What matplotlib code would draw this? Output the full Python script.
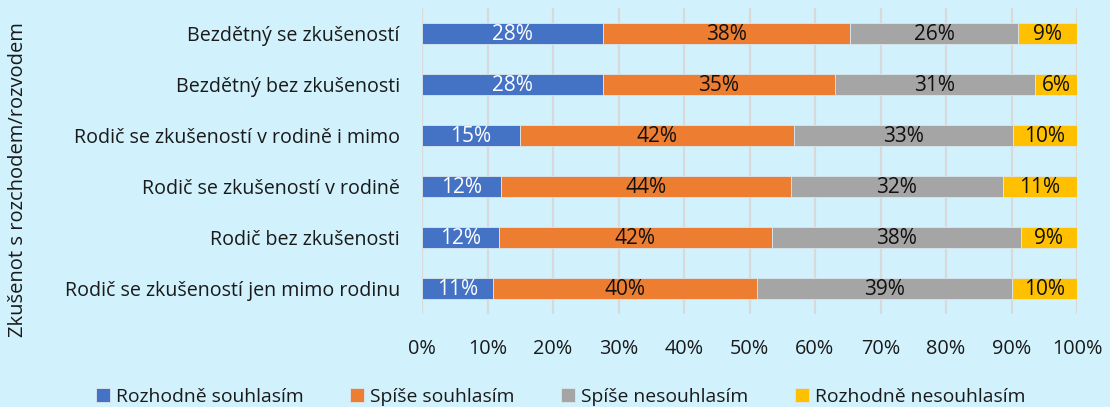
import matplotlib.pyplot as plt
import numpy as np

plt.rcParams['font.family'] = ['Open Sans', 'DejaVu Sans']

# data
kategorie = ['Bezdětný se zkušeností', 'Bezdětný bez zkušenosti',
             'Rodič se zkušeností v rodině i mimo', 'Rodič se zkušeností v rodině',
             'Rodič bez zkušenosti', 'Rodič se zkušeností jen mimo rodinu']
rozhodne_souhlasim = [27.7, 27.7, 14.9, 12.0, 11.7, 10.8]
spise_souhlasim = [37.7, 35.3, 41.9, 44.3, 41.7, 40.4]
spise_nesouhlasim = [25.6, 30.6, 33.4, 32.4, 38.0, 38.8]
rozhodne_nesouhlasim = [9.0, 6.4, 9.8, 11.3, 8.6, 10.0]
serie = ['Rozhodně souhlasím', 'Spíše souhlasím', 'Spíše nesouhlasím', 'Rozhodně nesouhlasím']
barvy = ['#4472C4', '#ED7D31', '#A5A5A5', '#FFC000']
barvy_textu = ['white', '#111111', '#111111', '#111111']

bg = '#D1F1FC'
fig = plt.figure(figsize=(11.1, 4.07), dpi=100, facecolor=bg)
ax = fig.add_axes([422 / 1110, 1 - 314 / 407, 655 / 1110, 306 / 407], facecolor=bg)

y = np.arange(len(kategorie))
left = np.zeros(len(kategorie))
for vals, nazev, c, tc in zip([rozhodne_souhlasim, spise_souhlasim, spise_nesouhlasim, rozhodne_nesouhlasim],
                              serie, barvy, barvy_textu):
    vals = np.array(vals)
    ax.barh(y, vals, left=left, height=0.4, color=c, label=nazev,
            edgecolor='#D9E6EE', linewidth=0.6, zorder=3)
    for yi, l, v in zip(y, left, vals):
        ax.text(l + v / 2, yi + 0.02, '%d%%' % round(v), ha='center', va='center',
                color=tc, fontsize=15, zorder=4)
    left += vals

ax.set_xlim(0, 100)
ax.set_ylim(len(kategorie) - 0.5, -0.5)
ax.set_yticks(y)
ax.set_yticklabels(kategorie, fontsize=14.1, color='#1a1a1a')
ax.set_xticks(np.arange(0, 101, 10))
ax.set_xticklabels(['%d%%' % v for v in range(0, 101, 10)], fontsize=14.3, color='#1a1a1a')
ax.tick_params(length=0)
ax.tick_params(axis='x', pad=18)
ax.tick_params(axis='y', pad=16)
ax.grid(axis='x', color='#D9D9D9', linewidth=1.5, zorder=0)
for s in ax.spines.values():
    s.set_visible(False)

fig.text(18 / 1110, 1 - 180 / 407, 'Zkušenot s rozchodem/rozvodem', rotation=90,
         ha='center', va='center', fontsize=14.5, color='#1a1a1a')

fig.legend(loc='lower center', bbox_to_anchor=(0.505, -0.04), ncol=4, frameon=False,
           fontsize=13.9, handlelength=0.75, handleheight=0.75, handletextpad=0.3,
           columnspacing=2.4, labelcolor='#1a1a1a')

fig.savefig('out.png', dpi=100, facecolor=bg)
